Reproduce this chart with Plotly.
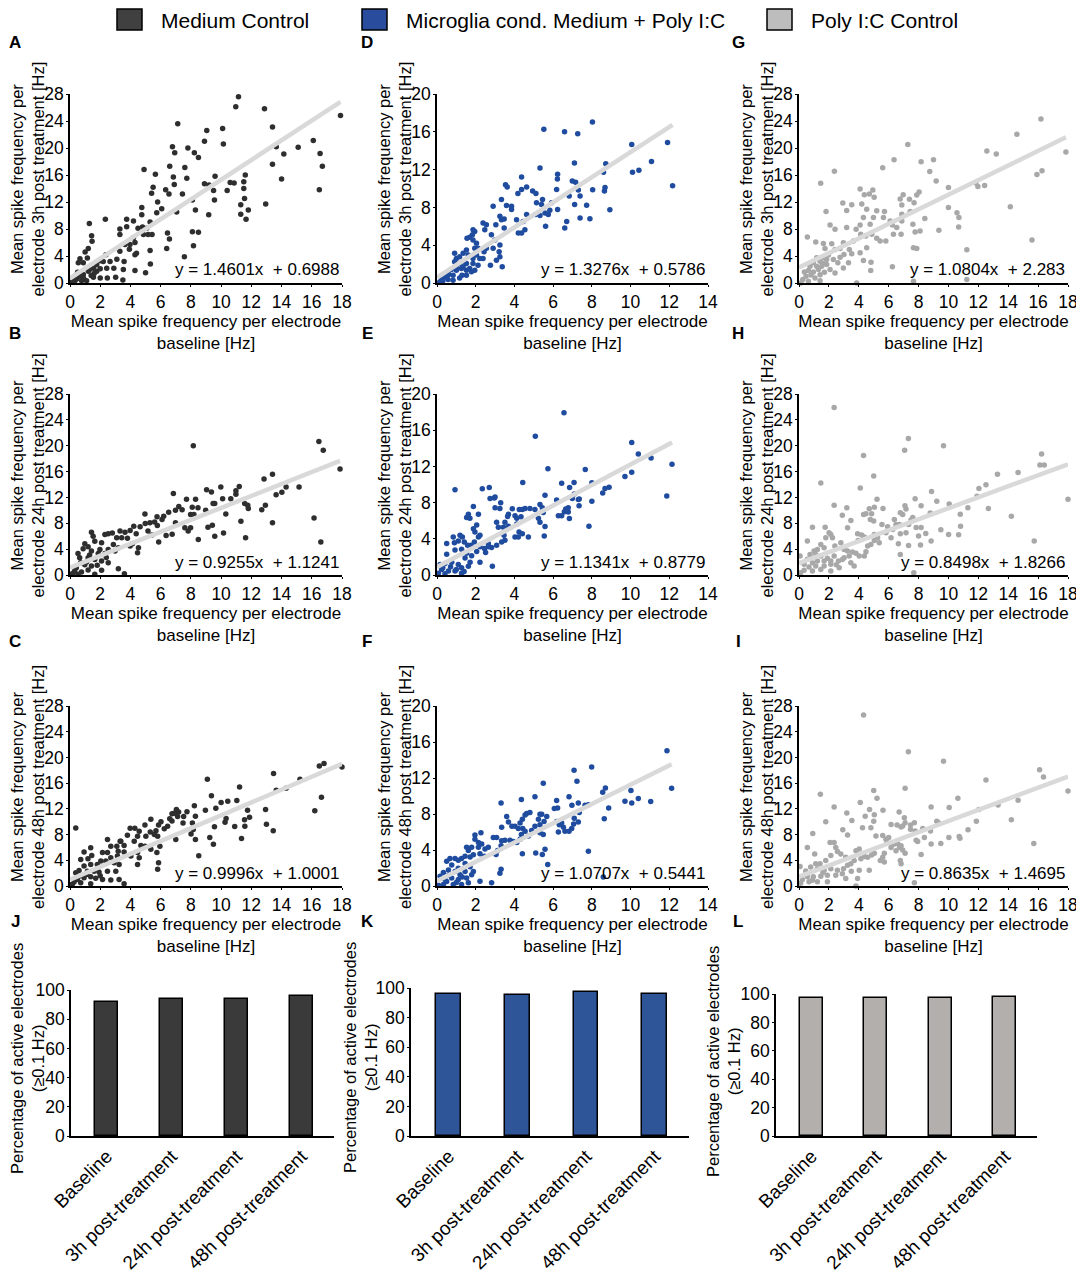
import plotly.graph_objects as go

# page is 1084x1276; the html body adds an 8px margin, so the figure itself is 8px smaller
OFF = 8
W, H = 1084 - OFF, 1276 - OFF

# ---- data (baseline Hz, post-treatment Hz) ----
pts_a = [(11.15, 27.6), (10.97, 26.1), (12.87, 25.8), (17.9, 24.8), (13.4, 23.1), (7.13, 23.6), (9.05, 22.6),
         (10.1, 22.9), (6.78, 20.2), (6.93, 19.3), (7.8, 20.0), (8.23, 19.3), (8.9, 21.0), (10.15, 20.6),
         (8.5, 18.6), (7.6, 17.1), (6.6, 17.3), (5.65, 16.1), (4.9, 16.8), (6.84, 15.7), (6.9, 14.6),
         (7.73, 15.5), (9.2, 14.5), (9.6, 15.8), (9.5, 13.7), (10.6, 14.9), (10.86, 14.8), (10.4, 13.7),
         (11.5, 15.0), (11.6, 16.0), (11.5, 14.0), (11.55, 12.5), (11.3, 11.6), (11.3, 10.2), (11.65, 9.45),
         (11.8, 10.8), (12.95, 11.7), (13.4, 17.6), (14.15, 19.1), (14.0, 15.4), (15.1, 20.1), (16.1, 21.1),
         (16.5, 13.8), (16.55, 19.2), (16.7, 17.3), (13.65, 20.2), (9.18, 10.1), (9.56, 12.3), (8.9, 14.7),
         (8.1, 12.3), (8.3, 10.8), (8.1, 7.6), (8.5, 7.5), (8.17, 5.5), (7.57, 3.9), (7.44, 13.2), (7.06, 10.5),
         (6.55, 13.2), (6.33, 13.8), (6.07, 11.0), (5.8, 12.0), (6.45, 7.4), (6.58, 6.5), (6.4, 5.1),
         (5.5, 14.2), (5.4, 13.3), (5.74, 10.4), (5.3, 9.05), (5.43, 7.2), (5.17, 7.2), (5.3, 4.8), (5.32, 2.8),
         (5.0, 1.5), (4.86, 7.2), (4.8, 8.3), (4.75, 10.1), (4.75, 11.2), (4.2, 9.2), (3.75, 9.45), (4.5, 8.1),
         (3.75, 8.35), (4.2, 6.7), (4.3, 6.0), (3.97, 5.7), (3.64, 5.7), (3.3, 4.7), (3.3, 8.0), (3.3, 7.2),
         (4.3, 1.85), (3.53, 2.0), (3.58, 3.2), (3.1, 3.5), (2.9, 2.2), (2.65, 3.2), (2.38, 4.2), (2.43, 2.2),
         (2.47, 0.75), (3.02, 0.85), (3.5, 0.45), (2.34, 9.45), (1.28, 8.8), (1.43, 7.0), (1.46, 6.2),
         (1.21, 5.1), (1.0, 4.6), (0.66, 3.6), (0.55, 3.0), (0.88, 3.0), (1.15, 3.7), (1.55, 2.2), (1.77, 1.75),
         (1.21, 1.75), (0.88, 1.25), (0.66, 1.0), (0.44, 0.6), (0.22, 0.25), (2.0, 2.1), (1.77, 2.7), (2.0, 3.3),
         (2.2, 3.2), (2.0, 0.75), (1.55, 0.85), (1.1, 0.35), (0.33, 0.35), (0.11, 0.1), (0.77, 0.35), (4.3, 4.2),
         (3.93, 5.0), (4.4, 4.4), (5.08, 8.1), (1.3, 2.0), (1.6, 1.4), (0.9, 0.7), (1.4, 1.1), (0.5, 1.6)]

pts_b = [(16.47, 20.66), (16.76, 19.3), (17.87, 16.4), (8.16, 20.0), (12.84, 14.85), (13.4, 15.6), (15.16, 13.6),
         (14.3, 13.6), (14.02, 12.8), (13.64, 12.4), (12.93, 10.8), (13.4, 8.07), (16.15, 8.8), (16.6, 5.1),
         (11.2, 13.7), (10.98, 13.05), (9.98, 13.6), (10.1, 11.8), (10.64, 11.8), (9.04, 13.2), (9.36, 12.85),
         (9.58, 11.05), (11.56, 11.05), (11.8, 10.3), (10.31, 9.45), (11.31, 8.3), (11.62, 5.76), (10.16, 6.5),
         (9.58, 6.0), (9.42, 7.7), (9.13, 7.4), (9.47, 11.05), (8.98, 10.0), (8.47, 10.4), (8.31, 11.7),
         (8.09, 10.5), (7.98, 9.35), (8.2, 9.35), (8.49, 5.5), (7.71, 11.7), (7.42, 10.1), (7.2, 10.6),
         (6.84, 12.6), (6.98, 10.0), (7.6, 7.3), (7.82, 6.8), (7.98, 7.3), (6.98, 8.1), (6.53, 9.7), (6.2, 9.1),
         (6.09, 8.6), (6.36, 6.1), (6.76, 6.3), (5.78, 7.65), (5.76, 9.0), (5.6, 8.2), (5.29, 8.07), (4.96, 9.45),
         (4.98, 7.96), (5.42, 6.2), (5.87, 5.1), (5.16, 6.8), (4.64, 7.45), (4.38, 6.37), (4.22, 7.55),
         (3.98, 6.9), (4.13, 4.83), (4.53, 4.2), (4.47, 3.44), (3.98, 4.47), (3.8, 5.7), (3.64, 6.63),
         (3.31, 6.8), (3.42, 5.75), (3.09, 5.75), (2.8, 6.5), (2.53, 6.4), (2.31, 6.27), (3.2, 4.2), (2.87, 4.7),
         (2.98, 3.7), (2.53, 3.96), (2.09, 5.0), (1.98, 3.96), (1.53, 6.0), (1.42, 6.6), (1.64, 5.24),
         (0.98, 4.83), (1.2, 4.37), (0.87, 4.06), (1.42, 3.7), (1.87, 3.34), (2.31, 3.34), (0.53, 3.34),
         (0.64, 2.67), (1.2, 2.67), (1.64, 2.4), (2.09, 2.16), (2.53, 1.9), (3.2, 0.98), (3.6, 0.2), (2.09, 0.72),
         (1.42, 1.39), (0.98, 1.6), (0.42, 1.13), (0.31, 0.62), (0.76, 0.46), (1.2, 0.77), (0.2, 0.26),
         (0.53, 0.1), (1.64, 0.1), (0.09, 0.1), (11.76, 10.8), (12.69, 10.1), (10.98, 12.5), (1.1, 2.0),
         (0.7, 1.9), (1.8, 1.5), (2.4, 2.7), (1.3, 3.1)]

pts_c = [(16.81, 19.06), (16.5, 18.65), (18.0, 18.5), (15.22, 16.6), (14.3, 15.2), (13.65, 14.9), (13.47, 17.5),
         (16.64, 13.8), (16.2, 11.7), (12.94, 11.9), (13.0, 9.6), (13.45, 8.6), (11.75, 11.8), (11.88, 10.7),
         (11.55, 10.3), (11.57, 9.3), (11.35, 7.4), (10.9, 9.25), (11.04, 13.3), (11.22, 15.4), (10.44, 13.2),
         (10.0, 13.0), (10.26, 9.9), (10.33, 10.5), (9.65, 12.1), (9.36, 14.05), (9.09, 16.6), (8.96, 11.8),
         (9.56, 9.2), (9.25, 7.55), (9.49, 6.5), (8.23, 12.5), (8.3, 10.85), (8.1, 9.8), (8.16, 8.8),
         (8.3, 7.25), (8.52, 4.7), (8.01, 8.1), (7.74, 11.55), (7.52, 10.8), (7.48, 9.8), (7.19, 11.5),
         (6.75, 11.25), (6.75, 10.1), (7.04, 11.9), (6.9, 11.3), (7.12, 10.8), (7.0, 7.25), (6.6, 10.45),
         (6.46, 9.3), (6.24, 8.9), (5.86, 9.5), (6.02, 10.0), (5.69, 8.6), (5.58, 8.0), (5.95, 6.2), (5.8, 7.75),
         (5.35, 10.4), (4.96, 9.5), (5.31, 8.4), (5.02, 7.75), (4.58, 8.5), (4.29, 9.0), (4.47, 7.75),
         (3.98, 9.0), (3.8, 7.9), (4.25, 6.95), (4.69, 6.3), (4.96, 6.2), (5.35, 5.7), (5.75, 5.2), (5.86, 3.6),
         (5.8, 2.6), (4.47, 5.2), (4.58, 4.4), (4.47, 3.36), (4.03, 4.65), (3.58, 5.3), (3.36, 6.95),
         (3.58, 6.3), (3.1, 6.2), (3.19, 5.4), (2.7, 6.2), (2.48, 7.25), (3.32, 6.97), (3.14, 4.65), (2.92, 3.6),
         (3.25, 3.36), (2.7, 4.4), (2.48, 5.2), (2.15, 5.2), (2.04, 3.87), (2.37, 3.87), (1.37, 5.94),
         (0.93, 5.3), (1.44, 4.75), (1.19, 4.25), (0.71, 4.13), (1.81, 3.36), (1.37, 3.36), (0.93, 3.1),
         (0.38, 2.07), (0.6, 2.43), (1.15, 2.3), (1.59, 2.3), (1.92, 2.17), (2.48, 2.3), (3.03, 2.3),
         (3.25, 1.03), (3.58, 0.36), (2.7, 0.93), (2.15, 1.03), (1.37, 1.45), (0.93, 1.29), (0.49, 1.03),
         (0.27, 0.62), (0.71, 0.52), (1.37, 0.36), (0.15, 0.26), (0.38, 9.04), (0.04, 0.1), (1.1, 1.8),
         (1.7, 1.2), (0.6, 1.5), (2.0, 1.6)]

pts_d = [(5.52, 16.26), (6.59, 16.0), (7.27, 15.8), (8.03, 17.05), (10.06, 14.65), (11.91, 14.87), (11.08, 12.87),
         (10.43, 11.94), (10.1, 11.73), (12.17, 10.3), (8.72, 12.62), (8.6, 11.73), (8.68, 10.1), (8.65, 9.73),
         (8.93, 7.74), (8.04, 9.88), (7.9, 6.8), (7.1, 12.7), (7.16, 10.66), (6.99, 10.8), (6.83, 9.2),
         (7.11, 8.3), (7.3, 9.84), (7.39, 9.2), (7.73, 8.23), (7.39, 6.88), (6.7, 6.52), (6.6, 5.81),
         (6.23, 11.5), (6.22, 11.0), (6.18, 9.9), (6.23, 7.77), (5.83, 7.7), (5.92, 8.48), (5.45, 8.84),
         (5.4, 8.3), (5.58, 7.4), (5.75, 7.24), (5.32, 7.13), (5.09, 7.24), (5.14, 8.48), (5.11, 9.48),
         (4.94, 9.73), (5.32, 12.16), (5.61, 6.0), (4.63, 10.16), (4.37, 11.23), (4.37, 9.9), (4.18, 9.48),
         (4.63, 7.24), (4.45, 6.52), (4.54, 5.63), (4.37, 5.28), (4.2, 5.28), (4.11, 6.7), (3.85, 8.13),
         (3.85, 7.77), (3.54, 10.41), (3.63, 10.16), (3.59, 8.2), (3.47, 6.77), (3.33, 6.7), (3.25, 7.06),
         (3.33, 8.84), (3.47, 5.81), (3.04, 6.17), (2.9, 8.13), (2.55, 6.17), (2.47, 5.63), (2.38, 6.35),
         (2.81, 5.1), (2.99, 4.56), (3.25, 4.03), (3.21, 3.32), (3.07, 2.42), (3.37, 1.71), (2.76, 1.89),
         (2.9, 3.67), (2.55, 3.67), (2.43, 3.32), (2.38, 2.6), (2.21, 2.6), (1.95, 5.45), (1.86, 5.63),
         (1.83, 5.1), (1.69, 4.85), (1.55, 4.74), (1.86, 4.56), (2.04, 4.2), (1.95, 3.67), (2.12, 3.67),
         (2.04, 2.96), (1.86, 2.6), (1.61, 2.96), (1.52, 3.49), (1.35, 3.14), (1.17, 2.78), (1.0, 2.6),
         (0.91, 3.14), (0.91, 2.25), (1.17, 2.07), (1.52, 2.07), (1.86, 2.07), (1.95, 1.35), (1.78, 1.18),
         (1.52, 1.35), (1.29, 0.82), (1.0, 1.35), (0.74, 1.43), (0.57, 1.0), (0.83, 0.82), (0.4, 0.64),
         (0.22, 0.36), (0.57, 0.36), (0.14, 0.11), (0.83, 0.29), (1.17, 0.53), (1.52, 0.82), (1.26, 1.53),
         (1.35, 1.71), (1.69, 1.53), (2.12, 1.89), (3.25, 2.78), (0.6, 0.9), (0.3, 0.2), (1.0, 1.7), (1.4, 2.3)]

pts_e = [(6.56, 17.92), (5.08, 15.33), (10.06, 14.65), (12.14, 12.24), (10.4, 13.36), (11.06, 12.93), (10.06, 11.35),
         (9.71, 10.88), (5.73, 11.74), (7.66, 11.67), (4.43, 10.23), (6.44, 10.13), (7.08, 10.23), (6.85, 9.66),
         (8.0, 10.2), (8.0, 8.15), (8.89, 9.7), (8.68, 9.55), (8.56, 9.05), (11.87, 8.73), (7.85, 5.39),
         (0.93, 9.41), (2.34, 9.52), (2.7, 9.66), (2.74, 8.44), (3.0, 8.62), (5.58, 8.8), (6.18, 8.3),
         (7.35, 8.4), (7.09, 8.94), (6.99, 8.44), (7.3, 8.33), (6.65, 7.29), (6.78, 7.43), (6.58, 7.0),
         (6.27, 6.54), (6.44, 6.54), (6.78, 6.97), (7.34, 7.65), (6.84, 6.25), (5.58, 5.35), (5.32, 5.82),
         (5.24, 6.28), (5.49, 6.9), (5.44, 7.43), (5.32, 7.8), (5.06, 7.25), (4.8, 7.36), (4.55, 7.36),
         (4.41, 7.25), (4.25, 7.25), (4.34, 6.43), (4.03, 6.54), (4.12, 6.28), (3.89, 7.32), (3.69, 6.72),
         (3.65, 6.46), (3.51, 5.82), (3.43, 5.28), (3.69, 5.39), (4.12, 5.64), (4.24, 4.74), (4.41, 4.56),
         (4.2, 4.2), (4.72, 4.2), (5.54, 4.31), (3.29, 7.97), (3.25, 7.36), (2.96, 8.52), (3.0, 7.43),
         (3.08, 5.82), (3.17, 5.28), (3.46, 4.38), (3.51, 3.84), (3.34, 3.66), (3.08, 3.3), (2.82, 3.05),
         (2.65, 3.12), (2.65, 3.48), (2.45, 2.94), (2.51, 2.48), (2.22, 3.12), (2.05, 2.59), (2.14, 4.2),
         (2.22, 4.38), (1.96, 4.74), (1.88, 5.1), (2.05, 5.53), (2.14, 6.71), (1.7, 6.28), (1.62, 6.36),
         (1.53, 6.36), (1.88, 7.58), (1.62, 6.71), (1.93, 3.66), (1.76, 3.3), (1.58, 3.3), (1.41, 3.66),
         (1.31, 4.2), (1.1, 3.77), (0.9, 3.55), (1.19, 4.38), (0.84, 4.2), (0.5, 3.48), (0.5, 2.3), (0.93, 2.76),
         (1.27, 2.84), (1.53, 2.41), (1.79, 2.12), (1.45, 1.87), (1.71, 1.4), (2.22, 1.4), (1.62, 0.97),
         (1.27, 0.79), (1.1, 1.15), (0.76, 1.4), (0.41, 1.26), (0.16, 1.15), (0.24, 0.61), (0.59, 0.43),
         (0.93, 0.43), (2.86, 0.97), (1.27, 0.18), (0.07, 0.18), (0.41, 0.14), (4.03, 4.2), (0.7, 0.9),
         (1.0, 0.6), (0.3, 0.8), (1.4, 0.4)]

pts_f = [(11.88, 15.02), (12.12, 10.86), (7.99, 13.23), (7.08, 12.87), (7.23, 11.65), (5.49, 11.43), (5.06, 9.93),
         (4.36, 9.61), (3.31, 9.21), (6.82, 9.93), (7.3, 9.21), (6.18, 9.5), (6.23, 8.67), (6.06, 8.6),
         (8.7, 10.9), (8.56, 10.43), (10.02, 10.61), (10.06, 9.21), (10.4, 9.71), (9.71, 9.43), (11.04, 9.39),
         (8.87, 8.67), (8.64, 7.46), (7.82, 3.87), (8.59, 1.0), (6.97, 8.96), (7.09, 7.53), (7.3, 7.1),
         (7.06, 6.88), (7.65, 8.96), (7.82, 9.03), (7.35, 8.17), (6.96, 6.38), (6.82, 6.09), (6.61, 6.09),
         (6.53, 6.52), (6.32, 6.81), (6.27, 5.99), (6.44, 6.99), (6.18, 7.17), (5.67, 7.71), (5.53, 7.17),
         (5.41, 7.96), (5.32, 7.96), (5.32, 6.81), (5.24, 7.42), (5.06, 6.63), (5.32, 5.91), (5.49, 5.73),
         (5.58, 4.09), (5.44, 3.51), (5.1, 3.66), (5.72, 2.4), (4.8, 8.17), (4.63, 8.06), (4.55, 7.89),
         (4.41, 7.42), (4.29, 6.99), (4.2, 6.38), (4.43, 6.38), (4.55, 6.09), (4.89, 6.16), (4.72, 5.56),
         (4.36, 5.73), (4.29, 5.2), (4.12, 4.84), (4.41, 3.58), (4.03, 6.63), (3.87, 6.63), (3.6, 7.71),
         (3.69, 7.1), (3.94, 4.95), (3.77, 5.09), (3.51, 5.09), (3.34, 5.02), (3.34, 6.52), (3.08, 5.38),
         (2.91, 5.38), (3.31, 4.48), (3.13, 3.94), (3.05, 3.51), (3.31, 1.86), (3.25, 1.43), (2.82, 0.36),
         (2.65, 4.3), (2.48, 4.12), (2.31, 4.66), (2.27, 5.91), (1.96, 5.66), (1.96, 5.2), (2.14, 4.84),
         (2.14, 4.3), (1.79, 4.3), (1.53, 4.3), (1.62, 3.94), (1.71, 3.23), (1.88, 3.48), (2.22, 3.58),
         (2.45, 3.3), (1.45, 3.3), (1.27, 3.05), (1.1, 2.87), (0.93, 3.05), (0.67, 3.05), (0.5, 2.76),
         (0.76, 2.33), (1.1, 1.97), (1.45, 2.51), (1.71, 2.15), (1.88, 1.61), (1.79, 1.25), (1.45, 1.61),
         (1.19, 1.25), (0.93, 1.61), (0.59, 1.79), (0.33, 1.51), (0.16, 1.08), (0.41, 0.72), (0.76, 0.9),
         (1.1, 0.72), (1.53, 0.9), (1.62, 0.36), (2.22, 0.54), (1.27, 0.18), (0.84, 0.18), (0.33, 0.18),
         (0.07, 0.07), (0.6, 1.2), (1.0, 0.4), (1.3, 1.0), (0.5, 0.5)]

pts_g = [(16.19, 24.28), (14.58, 22.04), (12.57, 19.55), (13.2, 19.1), (17.86, 19.4), (15.92, 16.07), (16.26, 16.62),
         (7.28, 20.5), (6.36, 18.26), (8.17, 17.96), (9.0, 18.26), (5.6, 17.06), (8.75, 16.52), (9.18, 15.12),
         (10.0, 14.13), (12.42, 14.43), (11.84, 14.83), (11.97, 14.28), (10.0, 11.19), (10.57, 10.4),
         (10.7, 9.7), (10.68, 8.31), (14.14, 11.29), (9.36, 7.81), (11.23, 4.93), (15.59, 6.37), (11.23, 0.5),
         (7.66, 0.25), (6.25, 2.39), (3.86, 0.0), (2.37, 16.57), (1.45, 14.78), (1.81, 10.6), (0.56, 6.82),
         (1.12, 6.07), (1.63, 5.87), (2.08, 8.61), (2.41, 7.96), (2.93, 11.84), (3.19, 10.75), (3.53, 11.59),
         (3.19, 8.21), (4.09, 13.93), (4.37, 13.08), (4.71, 13.18), (4.94, 13.78), (5.03, 12.69), (4.2, 11.69),
         (4.53, 10.94), (5.2, 10.7), (5.72, 10.6), (5.65, 9.7), (6.1, 9.2), (6.25, 8.61), (6.88, 10.2),
         (6.88, 11.54), (6.77, 12.44), (6.97, 13.08), (7.39, 12.39), (7.7, 11.89), (7.88, 13.03), (8.04, 13.48),
         (7.44, 10.6), (6.88, 9.2), (6.54, 8.21), (6.32, 7.21), (6.83, 7.21), (7.62, 8.71), (7.77, 7.56),
         (8.1, 7.71), (8.42, 9.55), (7.66, 5.22), (7.88, 5.12), (5.81, 6.22), (5.43, 6.22), (4.98, 9.7),
         (4.76, 8.71), (4.31, 9.7), (4.09, 8.61), (3.82, 7.96), (4.13, 7.21), (4.47, 6.97), (4.87, 7.21),
         (5.2, 6.62), (4.53, 5.22), (4.09, 4.48), (4.31, 3.33), (4.82, 3.08), (4.8, 1.84), (3.64, 6.22),
         (3.37, 4.98), (3.53, 4.33), (2.97, 5.97), (2.75, 5.12), (2.41, 4.98), (3.01, 4.23), (2.75, 3.83),
         (3.31, 2.99), (2.97, 2.24), (2.41, 1.49), (2.3, 3.48), (1.97, 4.13), (1.85, 3.48), (1.63, 3.73),
         (1.41, 3.23), (1.18, 3.73), (0.96, 2.99), (0.74, 2.49), (1.18, 2.49), (1.52, 2.49), (1.85, 2.74),
         (2.08, 1.99), (1.7, 1.59), (1.41, 1.24), (0.96, 1.64), (0.63, 1.84), (0.47, 0.99), (0.25, 0.5),
         (0.63, 0.25), (1.07, 0.75), (1.41, 0.35), (0.13, 0.0), (0.36, 1.64), (1.74, 5.12), (2.19, 5.82),
         (1.3, 2.0), (0.8, 1.2), (2.6, 3.0), (1.6, 2.9)]

pts_h = [(2.35, 25.9), (7.32, 21.1), (7.07, 19.3), (9.67, 20.0), (4.32, 18.5), (16.23, 18.7), (16.12, 17.0),
         (16.41, 17.0), (18.0, 11.7), (14.66, 15.85), (13.28, 15.6), (12.51, 13.95), (12.04, 13.38),
         (11.91, 12.2), (12.67, 10.3), (14.21, 9.1), (15.74, 5.25), (11.3, 10.4), (10.79, 9.4), (10.81, 7.55),
         (10.68, 6.23), (10.05, 11.0), (10.01, 6.28), (9.49, 7.0), (9.22, 11.4), (8.78, 9.6), (8.87, 12.9),
         (8.84, 5.25), (8.48, 6.43), (8.17, 10.7), (8.17, 7.35), (8.13, 4.63), (7.84, 7.35), (8.0, 6.02),
         (7.77, 11.8), (7.68, 0.36), (7.61, 8.9), (7.5, 8.5), (7.34, 7.8), (7.16, 10.2), (7.09, 10.7),
         (7.33, 4.58), (7.16, 6.54), (6.94, 9.37), (6.78, 9.62), (6.72, 7.8), (6.78, 6.38), (6.65, 4.84),
         (6.78, 3.19), (6.49, 7.8), (6.38, 8.6), (6.27, 7.05), (6.16, 5.76), (5.93, 7.46), (5.82, 6.54),
         (5.62, 10.3), (5.55, 7.8), (5.22, 11.73), (5.0, 15.3), (5.04, 10.5), (4.86, 9.47), (4.77, 8.6),
         (5.0, 8.34), (4.48, 9.47), (4.32, 9.37), (4.1, 13.45), (4.7, 10.24), (5.04, 6.28), (5.26, 5.76),
         (5.37, 4.99), (5.04, 5.35), (4.81, 4.73), (4.59, 4.48), (4.37, 5.87), (4.19, 6.17), (3.92, 6.38),
         (3.96, 5.35), (4.48, 3.6), (4.37, 2.93), (4.03, 2.93), (3.81, 3.35), (3.58, 3.55), (3.47, 8.44),
         (3.25, 7.3), (3.25, 3.7), (3.02, 3.96), (2.8, 4.99), (3.02, 2.68), (2.64, 2.16), (2.35, 2.93),
         (2.24, 5.76), (2.4, 4.48), (2.13, 6.28), (2.01, 6.54), (2.35, 10.8), (2.9, 9.26), (3.2, 10.4),
         (1.75, 7.4), (1.79, 5.76), (1.46, 4.73), (1.46, 14.25), (0.9, 7.4), (1.68, 4.22), (1.23, 3.96),
         (1.01, 3.7), (0.56, 5.25), (0.74, 3.19), (1.12, 3.19), (1.46, 2.93), (1.68, 2.16), (2.13, 2.16),
         (1.23, 2.16), (0.9, 1.9), (0.56, 2.42), (0.34, 1.65), (0.67, 1.24), (1.12, 1.39), (1.68, 1.39),
         (2.13, 1.65), (1.46, 0.87), (0.9, 0.62), (0.34, 0.72), (0.11, 0.36), (2.13, 0.62), (2.69, 1.13),
         (3.47, 1.9), (3.69, 1.39), (0.07, 2.93), (3.36, 2.93), (2.9, 2.4), (1.9, 2.6), (2.5, 1.6)]

pts_i = [(4.32, 26.6), (7.32, 20.9), (9.67, 19.4), (16.1, 18.07), (16.36, 16.95), (18.0, 14.77), (12.51, 16.5),
         (7.1, 15.2), (5.0, 14.87), (5.22, 13.65), (1.43, 14.26), (4.1, 13.0), (2.35, 12.3), (3.2, 11.35),
         (4.72, 11.9), (4.43, 10.84), (5.04, 11.1), (5.62, 11.8), (5.0, 10.08), (3.54, 10.18), (1.79, 9.98),
         (2.93, 8.76), (3.25, 7.94), (4.25, 9.06), (4.81, 9.06), (5.15, 7.79), (5.6, 7.84), (6.56, 9.47),
         (6.7, 11.5), (7.05, 10.6), (7.1, 9.83), (6.94, 9.32), (6.83, 9.16), (7.46, 9.47), (7.72, 9.83),
         (7.46, 8.81), (7.77, 8.55), (7.84, 7.13), (8.17, 4.89), (8.28, 8.96), (7.94, 6.92), (8.39, 7.54),
         (8.84, 12.3), (8.84, 6.52), (8.8, 8.55), (9.22, 10.08), (9.33, 9.83), (9.49, 6.62), (10.05, 12.2),
         (10.03, 7.54), (10.72, 7.7), (10.77, 7.43), (10.63, 13.65), (11.31, 8.76), (11.87, 10.08),
         (12.04, 11.9), (13.32, 12.6), (14.21, 10.3), (14.66, 13.35), (15.71, 6.62), (6.16, 9.57), (6.0, 7.54),
         (5.82, 7.28), (5.88, 6.77), (6.2, 6.41), (6.38, 6.52), (6.6, 6.62), (6.72, 6.0), (6.83, 6.26),
         (6.94, 5.6), (7.1, 5.09), (6.78, 3.97), (6.83, 3.46), (6.49, 5.5), (6.16, 6.0), (5.71, 5.09),
         (5.6, 4.48), (5.44, 3.97), (5.71, 3.72), (5.04, 5.09), (4.86, 4.84), (4.7, 2.44), (4.59, 4.48),
         (4.37, 4.58), (4.14, 4.23), (4.03, 5.75), (3.81, 5.5), (3.69, 3.97), (3.47, 3.46), (3.25, 3.21),
         (2.98, 2.7), (3.13, 4.48), (2.8, 4.99), (2.57, 5.35), (2.35, 6.77), (2.08, 6.77), (2.46, 6.0),
         (2.13, 4.73), (1.79, 3.97), (1.41, 3.46), (1.05, 4.99), (0.56, 6.0), (0.92, 8.15), (1.12, 3.46),
         (0.78, 2.95), (0.45, 2.34), (1.23, 2.7), (1.68, 2.44), (2.13, 2.7), (2.57, 2.44), (2.46, 1.68),
         (1.9, 1.68), (1.46, 1.53), (0.96, 1.43), (0.56, 1.43), (0.22, 1.02), (0.67, 0.66), (1.23, 0.66),
         (1.9, 0.66), (3.13, 1.17), (3.92, 1.17), (3.81, 0.0), (7.72, 0.51), (0.07, 3.05), (0.11, 0.41),
         (4.03, 2.44), (1.6, 2.1), (2.9, 1.9), (0.9, 0.9), (3.5, 2.3)]

# regression fits as printed on each panel (slope, intercept text)
fits = [(1.4601, "0.6988"), (1.3276, "0.5786"), (1.0804, "2.283"),
        (0.9255, "1.1241"), (1.1341, "0.8779"), (0.8498, "1.8266"),
        (0.9996, "1.0001"), (1.0707, "0.5441"), (0.8635, "1.4695")]

groups = ["Medium Control", "Microglia cond. Medium + Poly I:C", "Poly I:C Control"]
timepoints = ["3h", "24h", "48h"]
bar_categories = ["Baseline", "3h post-treatment", "24h post-treatment", "48h post-treatment"]
bar_medium = [92, 94, 94, 96]
bar_microglia = [96, 95.5, 97, 96]
bar_polyic = [97, 97.5, 97.5, 98]

# ---- styling ----
FONT = "Arial, Liberation Sans, sans-serif"
dot_colors = ["#2e2e2e", "#1f4c9e", "#a8a8a8"]
bar_colors = ["#3a3a3a", "#2e5597", "#b2afad"]
square_colors = ["#404040", "#2a4c9c", "#bdbdbd"]
LINE_COLOR = "#d9d9d9"

# positions in page pixels
col_px = [(70, 342), (437, 708), (799, 1068)]
row_px = [(94, 283), (394, 575), (706, 886)]
bar_x_px = [(71, 334), (411, 689), (776, 1037)]
bar_y_px = [(990, 1136), (988, 1136), (994, 1136)]
bar_title_px = [27, 360, 723]


def px_x(p):
    return (p - OFF) / W


def px_y(p):
    return 1 - (p - OFF) / H


def xdom(a, b):
    return [px_x(a), px_x(b)]


def ydom(top, bottom):
    return [px_y(bottom), px_y(top)]


def vtitle(text, px, py):
    return dict(xref="paper", yref="paper", x=px_x(px), y=px_y(py), text=text, textangle=-90,
                showarrow=False, xanchor="center", yanchor="middle",
                font=dict(size=16.5, color="black", family=FONT))


fig = go.Figure()
layout = {}
annotations = []
scatter_pts = [[pts_a, pts_d, pts_g], [pts_b, pts_e, pts_h], [pts_c, pts_f, pts_i]]

n = 0
for r in range(3):
    for c in range(3):
        n += 1
        sfx = "" if n == 1 else str(n)
        pts = scatter_pts[r][c]
        xs = [p[0] for p in pts]
        ys = [p[1] for p in pts]
        fig.add_trace(go.Scatter(x=xs, y=ys, mode="markers", xaxis="x" + sfx, yaxis="y" + sfx,
                                 marker=dict(size=5.5, color=dot_colors[c]), cliponaxis=False,
                                 showlegend=False))
        m, b_txt = fits[r * 3 + c]
        b = float(b_txt)
        xmax = max(xs)
        fig.add_trace(go.Scatter(x=[0, xmax], y=[b, m * xmax + b], mode="lines",
                                 xaxis="x" + sfx, yaxis="y" + sfx,
                                 line=dict(color=LINE_COLOR, width=4.5), showlegend=False))
        xr = 14 if c == 1 else 18
        yr = 20 if c == 1 else 28
        axis_common = dict(showline=True, linecolor="black", linewidth=1.5, ticks="outside",
                           ticklen=2, tickwidth=1.2, tickcolor="black", showgrid=False, zeroline=False,
                           automargin=False, tickfont=dict(size=17.5, color="black", family=FONT))
        layout["xaxis" + sfx] = dict(axis_common, domain=xdom(*col_px[c]), range=[0, xr], dtick=2,
                                     anchor="y" + sfx,
                                     title=dict(text="Mean spike frequency per electrode<br>baseline [Hz]",
                                                font=dict(size=17, color="black", family=FONT), standoff=1))
        layout["yaxis" + sfx] = dict(axis_common, domain=ydom(*row_px[r]), range=[0, yr], dtick=4,
                                     anchor="x" + sfx, ticklabelstandoff=-1)
        top, bottom = row_px[r]
        annotations.append(vtitle("Mean spike frequency per<br>electrode %s post treatment [Hz]" % timepoints[r],
                                  col_px[c][0] - 43, (top + bottom) / 2 - 9))
        annotations.append(dict(xref="x" + sfx + " domain", yref="y" + sfx + " domain", x=0.995, y=0.07,
                                xanchor="right", yanchor="middle", showarrow=False,
                                text="y = %.4fx  + %s" % (m, b_txt),
                                font=dict(size=17, color="black", family=FONT)))

bar_vals = [bar_medium, bar_microglia, bar_polyic]
for c in range(3):
    n += 1
    sfx = str(n)
    fig.add_trace(go.Bar(x=bar_categories, y=bar_vals[c], xaxis="x" + sfx, yaxis="y" + sfx, width=0.36,
                         marker=dict(color=bar_colors[c], line=dict(color="black", width=1.5)),
                         showlegend=False))
    layout["xaxis" + sfx] = dict(domain=xdom(*bar_x_px[c]), anchor="y" + sfx, type="category",
                                 range=[-0.55, 3.5], showline=True, linecolor="black", linewidth=1.5,
                                 ticks="", tickangle=-45, showgrid=False, zeroline=False, automargin=False,
                                 tickfont=dict(size=19, color="black", family=FONT))
    layout["yaxis" + sfx] = dict(domain=ydom(*bar_y_px[c]), anchor="x" + sfx, range=[0, 100], dtick=20,
                                 showline=True, linecolor="black", linewidth=1.5, ticks="outside", ticklen=2,
                                 tickcolor="black", showgrid=False, zeroline=False, automargin=False,
                                 ticklabelstandoff=-1, tickfont=dict(size=17.5, color="black", family=FONT))
    top, bottom = bar_y_px[c]
    annotations.append(vtitle("Percentage of active electrodes<br>(\u22650.1 Hz)", bar_title_px[c],
                              (top + bottom) / 2 - 4))

# panel letters
letters = [("A", 15, 42), ("B", 15, 334), ("C", 15, 641), ("J", 15, 921),
           ("D", 367, 42), ("E", 367, 334), ("F", 367, 641), ("K", 367, 921),
           ("G", 738, 42), ("H", 738, 334), ("I", 738, 641), ("L", 738, 921)]
for t, px, py in letters:
    annotations.append(dict(xref="paper", yref="paper", x=px_x(px), y=px_y(py), text="<b>%s</b>" % t,
                            showarrow=False, xanchor="center", yanchor="middle",
                            font=dict(size=17, color="black", family=FONT)))

# legend squares and labels
shapes = []
sq_px = [(117, 142), (362, 387), (767, 792)]
for c in range(3):
    x0, x1 = sq_px[c]
    shapes.append(dict(type="rect", xref="paper", yref="paper", x0=px_x(x0), x1=px_x(x1),
                       y0=px_y(30), y1=px_y(9), fillcolor=square_colors[c],
                       line=dict(color="black", width=1.5)))
    annotations.append(dict(xref="paper", yref="paper", x=px_x(x1 + 18), y=px_y(8), text=groups[c],
                            showarrow=False, xanchor="left", yanchor="top", borderpad=0,
                            font=dict(size=21, color="black", family=FONT)))

fig.update_layout(**layout)
fig.update_layout(width=W, height=H, autosize=False, margin=dict(l=0, r=0, t=0, b=0, autoexpand=False),
                  paper_bgcolor="white", plot_bgcolor="white", annotations=annotations, shapes=shapes,
                  font=dict(family=FONT, color="black"), bargap=0)

fig.write_html("out.html")
